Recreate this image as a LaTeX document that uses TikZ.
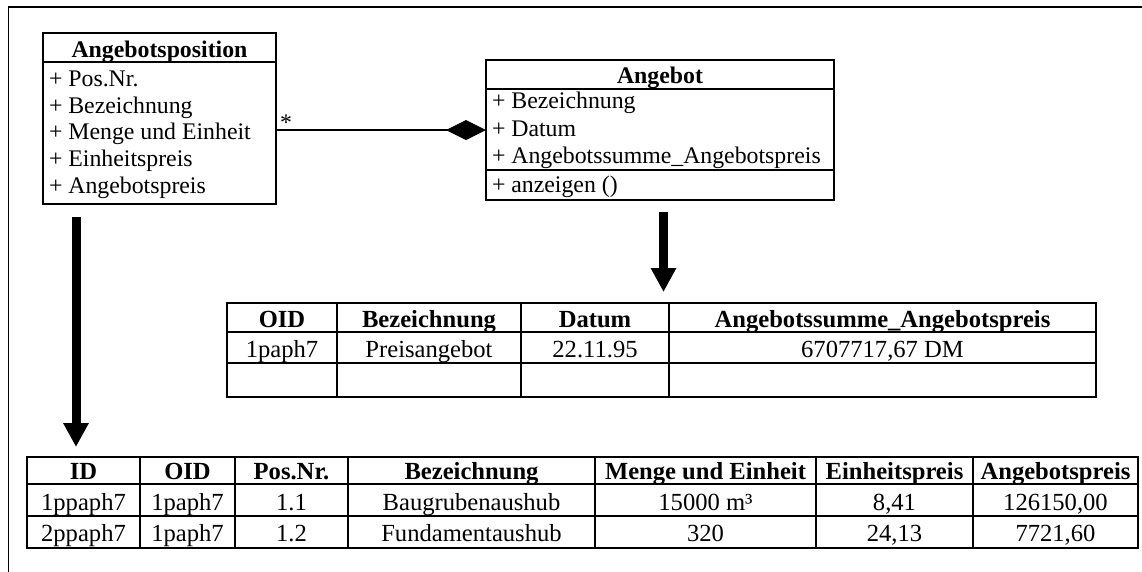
\documentclass[tikz,border=0pt]{standalone}
\usepackage{fontspec}
\setmainfont{Liberation Serif}
\usetikzlibrary{arrows.meta}
\begin{document}
\begin{tikzpicture}[x=1pt,y=-1pt,
  every node/.style={inner sep=0pt,outer sep=0pt},
  txt/.style={font=\fontsize{23.8}{26.7}\selectfont},
  hd/.style={font=\fontsize{23.8}{26.7}\selectfont\bfseries},
  ttxt/.style={font=\fontsize{24.6}{27}\selectfont},
  thd/.style={font=\fontsize{24.6}{27}\selectfont\bfseries},
  classbox/.style={draw,line width=1.4pt,anchor=north west},
  tbl/.style={line width=2pt},
  bigarrow/.style={line width=9pt,-{Triangle[length=24pt,width=24pt]}}]
\useasboundingbox (0,0) rectangle (1142,571);
% outer frame (only top and left edges fall inside the page)
\draw[line width=1.6pt] (8.5,580) -- (8.5,7) -- (1150,7);

% class Angebotsposition
\node[classbox,minimum width=233pt,minimum height=171pt] (ap) at (43,33) {};
\draw[line width=1.4pt] (ap.north west |- 0,62) -- (ap.north east |- 0,62);
\node[hd,anchor=base] (ap-t) at (159.5,57) {Angebotsposition};
\node[txt,anchor=base west] (ap-1) at (49,86.5) {+ Pos.Nr.};
\node[txt,anchor=base west] (ap-2) at (49,113) {+ Bezeichnung};
\node[txt,anchor=base west] (ap-3) at (49,139.5) {+ Menge und Einheit};
\node[txt,anchor=base west] (ap-4) at (49,166.5) {+ Einheitspreis};
\node[txt,anchor=base west] (ap-5) at (49,193) {+ Angebotspreis};

% class Angebot
\node[classbox,minimum width=348pt,minimum height=140pt] (an) at (486,60) {};
\draw[line width=1.4pt] (an.north west |- 0,89) -- (an.north east |- 0,89);
\draw[line width=1.4pt] (an.north west |- 0,170) -- (an.north east |- 0,170);
\node[hd,anchor=base] (an-t) at (660,83) {Angebot};
\node[txt,anchor=base west] (an-1) at (492,108) {+ Bezeichnung};
\node[txt,anchor=base west] (an-2) at (492,136) {+ Datum};
\node[txt,anchor=base west] (an-3) at (492,163.5) {+ Angebotssumme\_Angebotspreis};
\node[txt,anchor=base west] (an-4) at (492,192) {+ anzeigen ()};

% composition
\draw[line width=1.4pt,-{Diamond[length=40pt,width=20pt]}] (ap.east |- 0,130) -- (an.west |- 0,130);
\node[txt,anchor=base] (mult) at (286,130) {*};

% mapping arrows
\coordinate (a1s) at (76,217);
\coordinate (a1e) at (76,447);
\coordinate (a2s) at (663.5,212);
\coordinate (a2e) at (663.5,292);
\draw[bigarrow] (a1s) -- (a1e);
\draw[bigarrow] (a2s) -- (a2e);

% table Angebot
\draw[tbl] (227,303) rectangle (1096,397);
\draw[tbl] (227,332) -- (1096,332) (227,363) -- (1096,363);
\foreach \x in {337,521,669} \draw[tbl] (\x,303) -- (\x,397);
\node[thd,anchor=base] (u-h1) at (282,327) {OID};
\node[thd,anchor=base] (u-h2) at (429,327) {Bezeichnung};
\node[thd,anchor=base] (u-h3) at (595,327) {Datum};
\node[thd,anchor=base] (u-h4) at (882.5,327) {Angebotssumme\_Angebotspreis};
\node[ttxt,anchor=base] (u-11) at (282,357) {1paph7};
\node[ttxt,anchor=base] (u-12) at (429,357) {Preisangebot};
\node[ttxt,anchor=base] (u-13) at (595,357) {22.11.95};
\node[ttxt,anchor=base] (u-14) at (882.5,357) {6707717,67 DM};

% table Angebotsposition
\draw[tbl] (27,457) rectangle (1138,548);
\draw[tbl] (27,484) -- (1138,484) (27,516) -- (1138,516);
\foreach \x in {140,235,348,595,816,973} \draw[tbl] (\x,457) -- (\x,548);
\node[thd,anchor=base] (l-h1) at (83.5,479) {ID};
\node[thd,anchor=base] (l-h2) at (187.5,479) {OID};
\node[thd,anchor=base] (l-h3) at (291.5,479) {Pos.Nr.};
\node[thd,anchor=base] (l-h4) at (471.5,479) {Bezeichnung};
\node[thd,anchor=base] (l-h5) at (705.5,479) {Menge und Einheit};
\node[thd,anchor=base] (l-h6) at (894.5,479) {Einheitspreis};
\node[thd,anchor=base] (l-h7) at (1055.5,479) {Angebotspreis};
\node[ttxt,anchor=base] (l-11) at (83.5,510) {1ppaph7};
\node[ttxt,anchor=base] (l-12) at (187.5,510) {1paph7};
\node[ttxt,anchor=base] (l-13) at (291.5,510) {1.1};
\node[ttxt,anchor=base] (l-14) at (471.5,510) {Baugrubenaushub};
\node[ttxt,anchor=base] (l-15) at (705.5,510) {15000 m³};
\node[ttxt,anchor=base] (l-16) at (894.5,510) {8,41};
\node[ttxt,anchor=base] (l-17) at (1055.5,510) {126150,00};
\node[ttxt,anchor=base] (l-21) at (83.5,541) {2ppaph7};
\node[ttxt,anchor=base] (l-22) at (187.5,541) {1paph7};
\node[ttxt,anchor=base] (l-23) at (291.5,541) {1.2};
\node[ttxt,anchor=base] (l-24) at (471.5,541) {Fundamentaushub};
\node[ttxt,anchor=base] (l-25) at (705.5,541) {320};
\node[ttxt,anchor=base] (l-26) at (894.5,541) {24,13};
\node[ttxt,anchor=base] (l-27) at (1055.5,541) {7721,60};
\end{tikzpicture}
\end{document}
